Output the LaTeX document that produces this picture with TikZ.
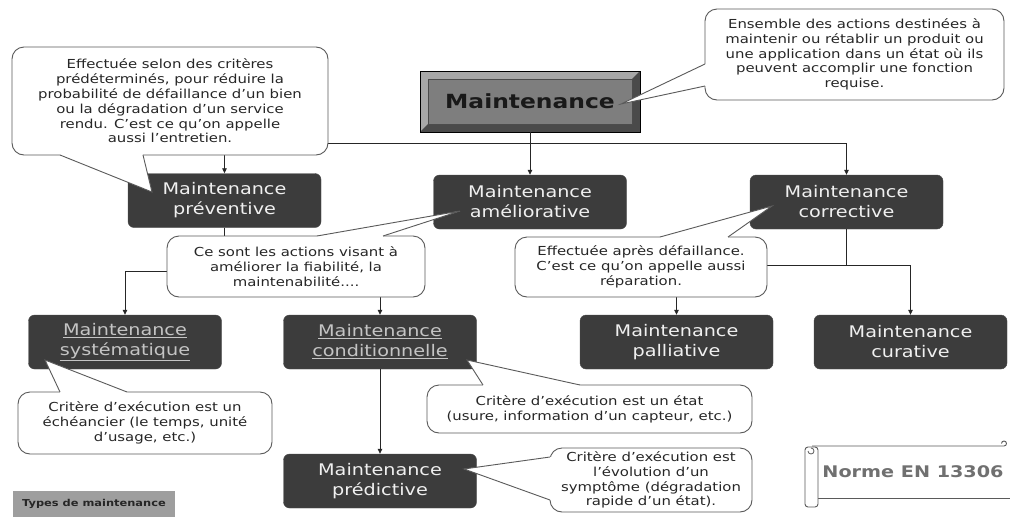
\documentclass[tikz,border=0pt]{standalone}
\usepackage{fontspec}
\setmainfont{DejaVu Sans}[FakeStretch=1.2]
\usetikzlibrary{arrows.meta}
\definecolor{boxfill}{HTML}{3C3C3C}
\definecolor{boxtext}{HTML}{F0F0F0}
\definecolor{linktext}{HTML}{C4C4C4}
\definecolor{bubbleline}{HTML}{5A5A5A}
\definecolor{bevellight}{HTML}{A8A8A8}
\definecolor{beveldark}{HTML}{4A4A4A}
\definecolor{rootface}{HTML}{7E7E7E}
\definecolor{labelgray}{HTML}{9E9E9E}
\definecolor{scrolltext}{HTML}{707070}

\begin{document}
\begin{tikzpicture}[x=1pt,y=-1pt,>={Triangle[length=5pt,width=4.5pt]},
  typebox/.style={draw=black!70,fill=boxfill,rounded corners=6pt,minimum width=193pt,
    minimum height=54pt,inner sep=0pt,align=center,text=boxtext,
    font=\fontsize{16}{20}\selectfont},
  linkbox/.style={typebox,text=linktext},
  bubble/.style={draw=bubbleline,fill=white,line width=0.9pt,rounded corners=12pt,
    inner sep=0pt,align=center,text=black!85,font=\fontsize{12.4}{14.8}\selectfont},
  tailline/.style={draw=bubbleline,line width=0.9pt},
  link/.style={draw=black!85,line width=0.8pt,->}]
\useasboundingbox[fill=white](0,0) rectangle (1010,517);

% boxes
\node[draw=black,fill=rootface,minimum width=220pt,minimum height=61pt,inner sep=0pt,
  font=\fontsize{19.5}{23}\selectfont\bfseries,text=black!90,
  path picture={
    \fill[bevellight](path picture bounding box.north west)--(path picture bounding box.north east)
      --([shift={(-8,8)}]path picture bounding box.north east)--([shift={(8,8)}]path picture bounding box.north west)
      --([shift={(8,-8)}]path picture bounding box.south west)--(path picture bounding box.south west)--cycle;
    \fill[beveldark](path picture bounding box.south east)--(path picture bounding box.north east)
      --([shift={(-8,8)}]path picture bounding box.north east)--([shift={(-8,-8)}]path picture bounding box.south east)
      --([shift={(8,-8)}]path picture bounding box.south west)--(path picture bounding box.south west)--cycle;
    \draw[black!70]([shift={(8,8)}]path picture bounding box.north west) rectangle ([shift={(-8,-8)}]path picture bounding box.south east);
  }] (root) at (530,101.5) {Maintenance};
\node[typebox] (prev) at (224.5,200.5) {Maintenance\\préventive};
\node[typebox] (amel) at (530,202) {Maintenance\\améliorative};
\node[typebox] (corr) at (846.5,202) {Maintenance\\corrective};
\node[linkbox] (syst) at (125,342) {\underline{Maintenance}\\\underline{systématique}};
\node[linkbox] (cond) at (380,342) {\underline{Maintenance}\\\underline{conditionnelle}};
\node[typebox] (pall) at (676.5,342) {Maintenance\\palliative};
\node[typebox] (cura) at (910.5,342) {Maintenance\\curative};
\node[typebox] (pred) at (380,481) {Maintenance\\prédictive};

% connectors
\draw[link](root.south)--++(0,11)-|(prev.north);
\draw[link](root.south)--(amel.north);
\draw[link](root.south)--++(0,11)-|(corr.north);
\draw[link](prev.south)--++(0,44)-|(syst.north);
\draw[link](prev.south)--++(0,44)-|(cond.north);
\draw[link](corr.south)--++(0,36)-|(pall.north);
\draw[link](corr.south)--++(0,36)-|(cura.north);
\draw[link](cond.south)--(pred.north);

% callouts
\node[bubble,minimum width=316pt,minimum height=108pt] (bprev) at (170,101)
  {Effectuée selon des critères\\prédéterminés, pour réduire la\\probabilité de défaillance d'un bien\\ou la dégradation d'un service\\rendu. C'est ce qu'on appelle\\aussi l'entretien.};
\fill[white](60,155)--(152,192)--(143,155)--(141,151)--(62,151)--cycle;
\draw[tailline](60,155)--(152,192)--(143,155);

\node[bubble,minimum width=299pt,minimum height=91pt] (broot) at (854.5,54.5)
  {Ensemble des actions destinées à\\maintenir ou rétablir un produit ou\\une application dans un état où ils\\peuvent accomplir une fonction\\requise.};
\fill[white](705,64)--(621,104)--(705,86)--(709,86)--(709,64)--cycle;
\draw[tailline](705,64)--(621,104)--(705,86);

\node[bubble,minimum width=258pt,minimum height=61pt] (bamel) at (296,266.5)
  {Ce sont les actions visant à\\améliorer la fiabilité, la\\maintenabilité....};
\fill[white](317,236)--(460,211)--(383,236)--(383,240)--(317,240)--cycle;
\draw[tailline](317,236)--(460,211)--(383,236);

\node[bubble,minimum width=252pt,minimum height=60pt] (bcorr) at (641,267)
  {Effectuée après défaillance.\\C'est ce qu'on appelle aussi\\réparation.};
\fill[white](660,237)--(772,206)--(728,237)--(728,241)--(660,241)--cycle;
\draw[tailline](660,237)--(772,206)--(728,237);

\node[bubble,minimum width=254pt,minimum height=62pt] (bsyst) at (145,423)
  {Critère d'exécution est un\\échéancier (le temps, unité\\d'usage, etc.)};
\fill[white](60,392)--(45,360)--(127,392)--(127,396)--(60,396)--cycle;
\draw[tailline](60,392)--(45,360)--(127,392);

\node[bubble,minimum width=325pt,minimum height=48pt] (bcond) at (589.5,409)
  {Critère d'exécution est un état\\(usure, information d'un capteur, etc.)};
\fill[white](483,385)--(467,360)--(580,385)--(580,389)--(483,389)--cycle;
\draw[tailline](483,385)--(467,360)--(580,385);

\node[bubble,minimum width=202pt,minimum height=64pt] (bpred) at (651,480)
  {Critère d'exécution est\\l'évolution d'un\\symptôme (dégradation\\rapide d'un état).};
\fill[white](550,457)--(464,469)--(550,500)--(554,500)--(554,457)--cycle;
\draw[tailline](550,457)--(464,469)--(550,500);

% scroll
\draw[bubbleline,line width=0.9pt](812,446)--(1004,446) arc[start angle=90,end angle=-180,radius=2.5];
\draw[bubbleline,line width=0.9pt](818,498)--(1010,498);
\draw[bubbleline,line width=0.9pt,fill=white,rounded corners=3pt](805,447) rectangle (818,507);
\draw[bubbleline,line width=0.8pt](808,451) arc[start angle=180,end angle=-90,radius=3];
\node[text=scrolltext,font=\fontsize{16}{19}\selectfont\bfseries] (norme) at (913,472) {Norme EN 13306};

% caption
\node[fill=labelgray,minimum width=162pt,minimum height=26pt,inner sep=0pt,
  font=\fontsize{9.5}{11}\selectfont\bfseries,text=black!85] (types) at (94,504) {Types de maintenance};
\end{tikzpicture}
\end{document}
